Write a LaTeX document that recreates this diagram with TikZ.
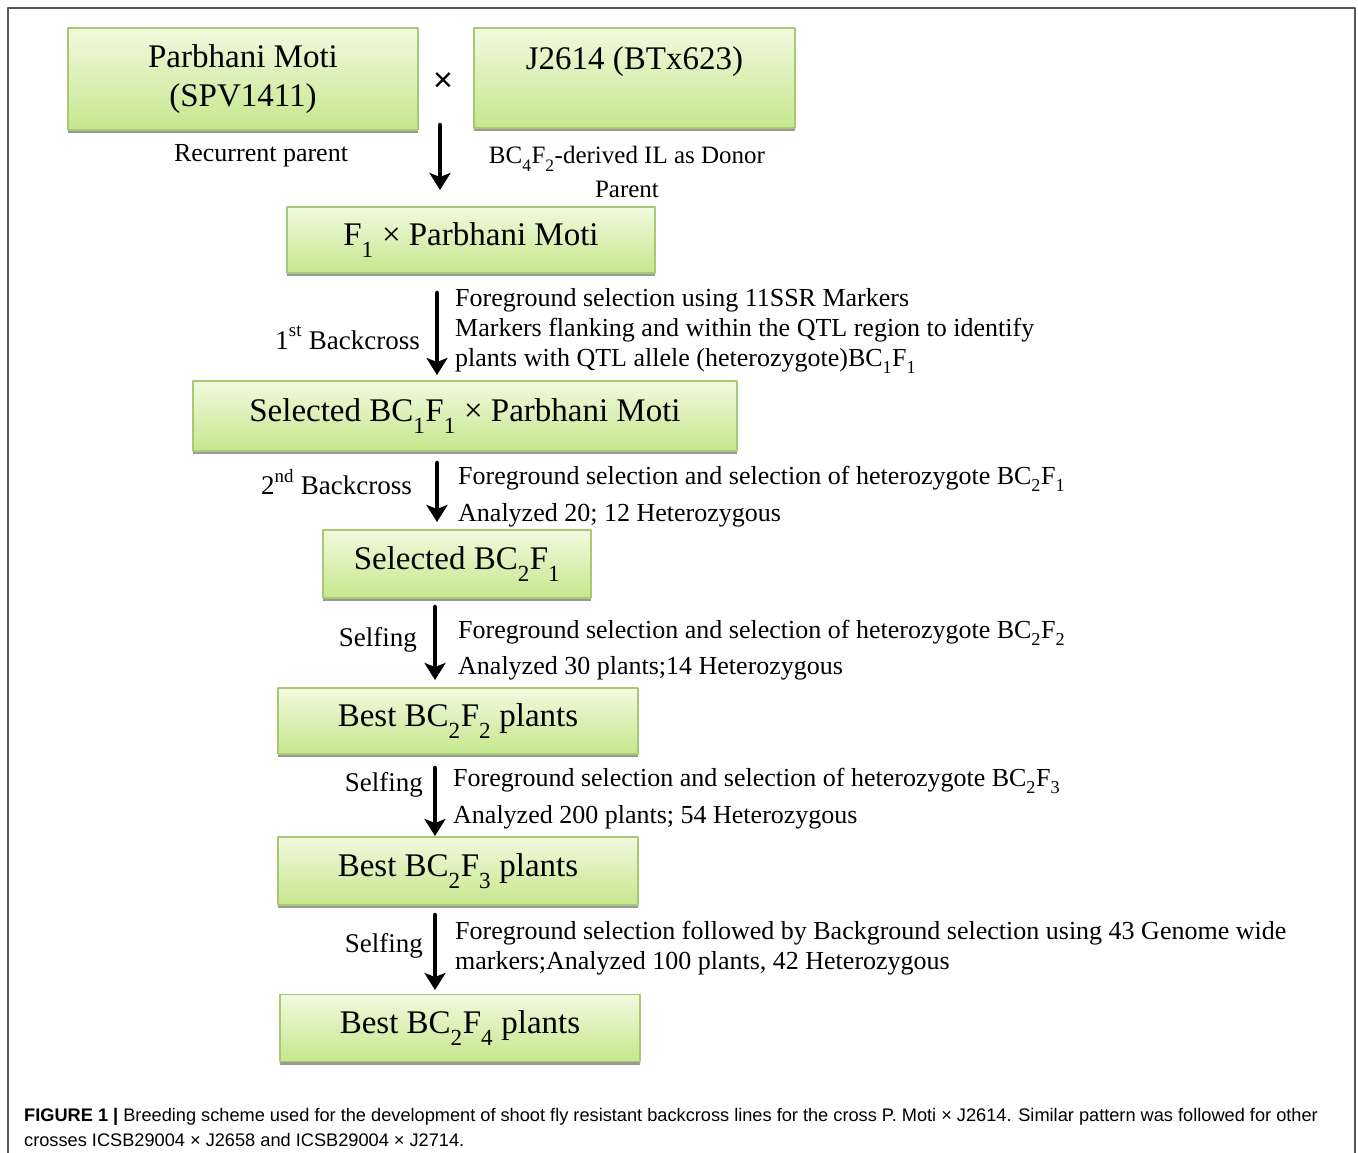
\documentclass[tikz,border=0pt]{standalone}
\usepackage{fontspec}
\setmainfont{Liberation Serif}
\newfontfamily\capfont{Liberation Sans}
\usetikzlibrary{arrows.meta,shadows}
\definecolor{boxtop}{HTML}{F1FADF}
\definecolor{boxbot}{HTML}{C5E78C}
\definecolor{boxline}{HTML}{A9C873}
\definecolor{frameline}{HTML}{555555}
\newcommand{\lo}[1]{\raisebox{-0.35ex}{\textsubscript{#1}}}
\newcommand{\hi}[1]{\raisebox{0.3ex}{\textsuperscript{#1}}}

\begin{document}
\begin{tikzpicture}[x=1pt,y=-1pt,line cap=round,line join=round,
  stage/.style={draw=boxline,line width=1.5pt,top color=boxtop,bottom color=boxbot,
    drop shadow={shadow xshift=0pt,shadow yshift=-3pt,fill=black!40,opacity=1},
    inner sep=0pt,font=\fontsize{33}{39}\selectfont,align=center},
  flow/.style={-{Stealth[length=17pt,width=21pt,inset=4pt]},line width=4.5pt},
  lab/.style={font=\fontsize{27}{34}\selectfont,inner sep=0pt},
  note/.style={font=\fontsize{26}{31}\selectfont,inner sep=0pt,anchor=base west},
  capline/.style={font=\capfont\fontsize{18.2}{22}\selectfont,inner sep=0pt,anchor=base west}]
\useasboundingbox (0,0) rectangle (1358,1153);
\draw[frameline,line width=1.5pt] (8,1160) -- (8,8) -- (1355,8) -- (1355,1160);

\node[stage,minimum width=350pt,minimum height=102pt] (moti) at (243,79) {Parbhani Moti\\(SPV1411)};
\node[stage,minimum width=321pt,minimum height=100pt] (donor) at (634.5,78) {J2614 (BTx623)\\\mbox{}};
\node[font=\capfont\fontsize{34}{36}\selectfont,inner sep=0pt] (cross) at (443,82) {×};
\node[lab,font=\fontsize{26}{34}\selectfont] (recur) at (261,156) {Recurrent parent};
\node[lab,font=\fontsize{25}{34}\selectfont,align=center] (dnr) at (627,172) {BC\lo{4}F\lo{2}-derived IL as Donor\\Parent};

\node[stage,minimum width=368pt,minimum height=66pt] (f1) at (471,240) {F\lo{1} × Parbhani Moti};
\node[stage,minimum width=544pt,minimum height=70pt] (bc1) at (465,416) {Selected BC\lo{1}F\lo{1} × Parbhani Moti};
\node[stage,minimum width=268pt,minimum height=68pt] (bc2f1) at (457,564) {Selected BC\lo{2}F\lo{1}};
\node[stage,minimum width=360pt,minimum height=66pt] (bc2f2) at (458,721) {Best BC\lo{2}F\lo{2} plants};
\node[stage,minimum width=360pt,minimum height=68pt] (bc2f3) at (458,871) {Best BC\lo{2}F\lo{3} plants};
\node[stage,minimum width=360pt,minimum height=67pt] (bc2f4) at (460,1028) {Best BC\lo{2}F\lo{4} plants};

\coordinate (a1) at (440,125); \coordinate (b1) at (440,190);
\coordinate (a2) at (437,293); \coordinate (b2) at (437,375);
\coordinate (a3) at (437,463); \coordinate (b3) at (437,522);
\coordinate (a4) at (435,607); \coordinate (b4) at (435,680);
\coordinate (a5) at (435,768); \coordinate (b5) at (435,836);
\coordinate (a6) at (435,915); \coordinate (b6) at (435,990);
\draw[flow] (a1) -- (b1);
\draw[flow] (a2) -- (b2);
\draw[flow] (a3) -- (b3);
\draw[flow] (a4) -- (b4);
\draw[flow] (a5) -- (b5);
\draw[flow] (a6) -- (b6);

\node[lab,anchor=east] (bx1) at (420,338) {1\hi{st} Backcross};
\node[note] (n1a) at (455,306) {Foreground selection using 11SSR Markers};
\node[note] (n1b) at (455,336) {Markers flanking and within the QTL region to identify};
\node[note] (n1c) at (455,366) {plants with QTL allele (heterozygote)BC\lo{1}F\lo{1}};

\node[lab,anchor=east] (bx2) at (412,482) {2\hi{nd} Backcross};
\node[note] (n2a) at (458,484) {Foreground selection and selection of heterozygote BC\lo{2}F\lo{1}};
\node[note] (n2b) at (458,521) {Analyzed 20; 12 Heterozygous};

\node[lab,anchor=east] (sf1) at (417,640) {Selfing};
\node[note] (n3a) at (458,638) {Foreground selection and selection of heterozygote BC\lo{2}F\lo{2}};
\node[note] (n3b) at (458,674) {Analyzed 30 plants;14 Heterozygous};

\node[lab,anchor=east] (sf2) at (423,785) {Selfing};
\node[note] (n4a) at (453,786) {Foreground selection and selection of heterozygote BC\lo{2}F\lo{3}};
\node[note] (n4b) at (453,823) {Analyzed 200 plants; 54 Heterozygous};

\node[lab,anchor=east] (sf3) at (423,946) {Selfing};
\node[note] (n5a) at (455,939) {Foreground selection followed by Background selection using 43 Genome wide};
\node[note] (n5b) at (455,969) {markers;Analyzed 100 plants, 42 Heterozygous};

\node[capline] (cap1) at (24,1121) {\textbf{FIGURE 1 |} Breeding scheme used for the development of shoot fly resistant backcross lines for the cross P. Moti × J2614. Similar pattern was followed for other};
\node[capline] (cap2) at (24,1146) {crosses ICSB29004 × J2658 and ICSB29004 × J2714.};
\end{tikzpicture}
\end{document}
